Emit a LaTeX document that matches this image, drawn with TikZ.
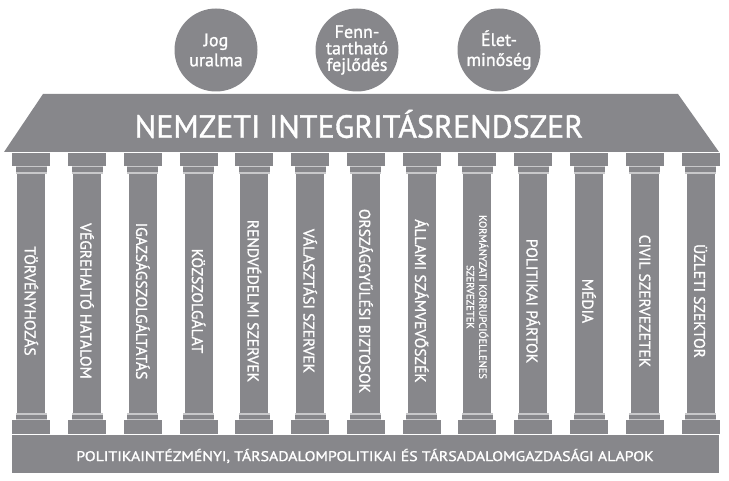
\documentclass[tikz,border=0pt]{standalone}
\usepackage{fontspec}
\setmainfont{PT Sans}
\newfontfamily\heavysans[FakeBold=1.2]{PT Sans}
\definecolor{pg}{HTML}{87878B}
\definecolor{pl}{HTML}{C8C8CA}
\tikzset{
  darkfill/.style={fill=pg,draw=none},
  lightfill/.style={fill=pl,draw=none},
  coltext/.style={text=white,font=\heavysans\fontsize{15.5}{16}\selectfont,rotate=-90,inner sep=0pt,align=center},
  valuecirc/.style={circle,fill=pg,minimum size=83pt,inner sep=0pt,text=white,align=center},
}
\begin{document}
\begin{tikzpicture}[x=1pt,y=-1pt]
\useasboundingbox (0,0) rectangle (729,481);
% circles
\node[valuecirc,font=\heavysans\fontsize{18}{20}\selectfont] (jog) at (216,50) {Jog\\uralma};
\node[valuecirc,font=\heavysans\fontsize{18}{16.5}\selectfont] (fenn) at (357,50) {Fenn-\\tartható\\fejlődés};
\node[valuecirc,font=\heavysans\fontsize{18}{20}\selectfont] (elet) at (499,50) {Élet-\\minőség};
% roof
\fill[pg] (43,94) -- (678,94) -- (719,152) -- (4,152) -- cycle;
\node[text=white,font=\heavysans\fontsize{32}{36}\selectfont,inner sep=0pt] (title) at (359,124) {NEMZETI INTEGRITÁSRENDSZER};
% columns
\foreach \i in {0,...,12}{
  \pgfmathsetmacro\c{31.3+55.77*\i}
  \fill[darkfill] (\c-19,153) rectangle (\c+19,166);
  \fill[lightfill] (\c-15.5,166) rectangle (\c+15.5,174);
  \fill[darkfill] (\c-15.5,167.5) rectangle (\c+15.5,172.5);
  \fill[darkfill] (\c-14,174) rectangle (\c+14,413);
  \fill[lightfill] (\c-15.5,413) rectangle (\c+15.5,420);
  \fill[darkfill] (\c-15.5,414.5) rectangle (\c+15.5,418.5);
  \fill[darkfill] (\c-19,420) rectangle (\c+19,433.5);
}
\foreach \i/\t in {0/TÖRVÉNYHOZÁS,1/VÉGREHAJTÓ HATALOM,2/IGAZSÁGSZOLGÁLTATÁS,3/KÖZSZOLGÁLAT,4/RENDVÉDELMI SZERVEK,5/VÁLASZTÁSI SZERVEK,6/ORSZÁGGYŰLÉSI BIZTOSOK,7/ÁLLAMI SZÁMVEVŐSZÉK,9/POLITIKAI PÁRTOK,10/MÉDIA,11/CIVIL SZERVEZETEK,12/ÜZLETI SZEKTOR}{
  \pgfmathsetmacro\c{31.3+55.77*\i}
  \node[coltext] (t\i) at (\c,301) {\t};
}
\pgfmathsetmacro\c{31.3+55.77*8}
\node[coltext,font=\heavysans\fontsize{10.5}{12.5}\selectfont] (t8) at (\c,297) {KORMÁNYZATI KORRUPCIÓELLENES\\SZERVEZETEK};
% plinth
\fill[darkfill] (12,435) rectangle (719,473);
\node[text=white,font=\heavysans\fontsize{14}{15}\selectfont,inner sep=0pt] (base) at (365,456) {\scalebox{1.13}[1]{POLITIKAINTÉZMÉNYI, TÁRSADALOMPOLITIKAI ÉS TÁRSADALOMGAZDASÁGI ALAPOK}};
\end{tikzpicture}
\end{document}
